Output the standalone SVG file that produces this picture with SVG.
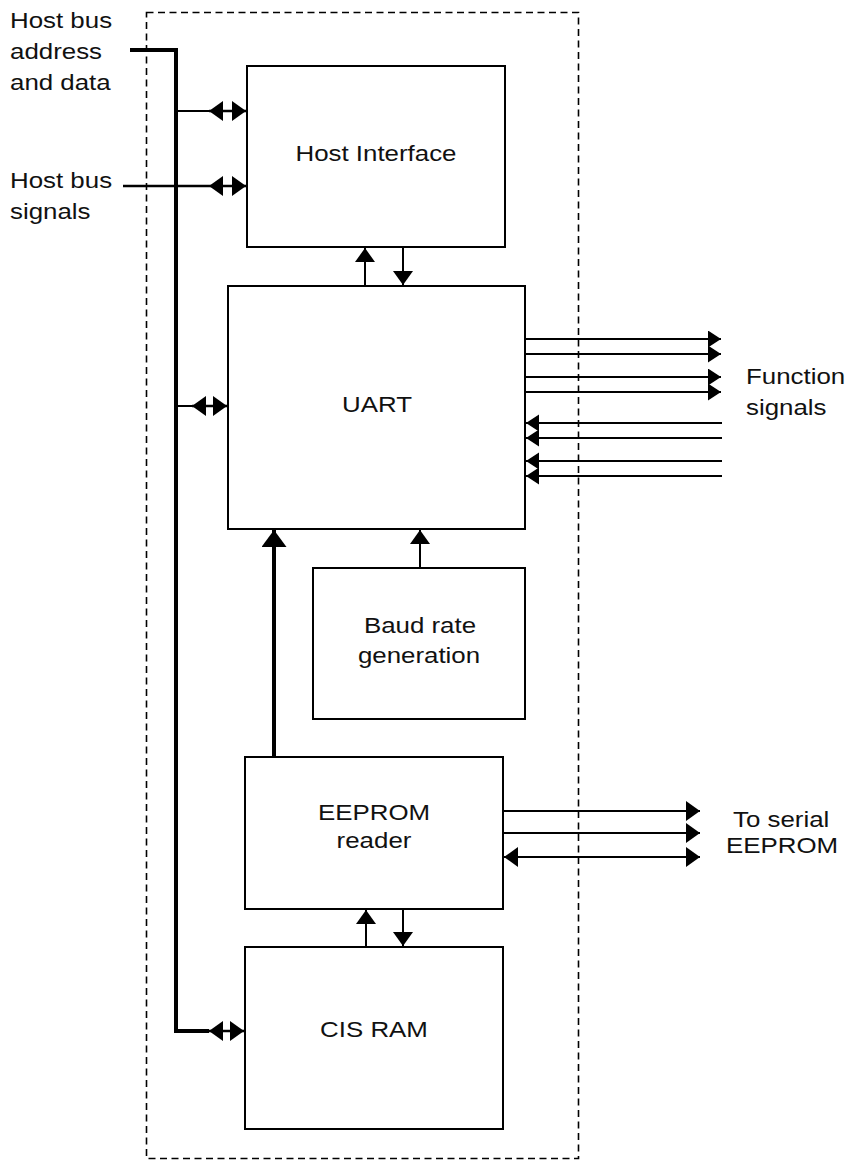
<svg xmlns="http://www.w3.org/2000/svg" width="849" height="1160" viewBox="0 0 849 1160">
<defs>
<marker id="ah" markerUnits="userSpaceOnUse" markerWidth="15" markerHeight="21" refX="14" refY="10" orient="auto-start-reverse" viewBox="0 0 15 21">
<path d="M0,0 L14,10 L0,20 z" fill="#000"/>
</marker>
<marker id="ahs" markerUnits="userSpaceOnUse" markerWidth="14" markerHeight="18" refX="13" refY="8.5" orient="auto-start-reverse" viewBox="0 0 14 18">
<path d="M0,0 L13,8.5 L0,17 z" fill="#000"/>
</marker>
<marker id="ahb" markerUnits="userSpaceOnUse" markerWidth="18" markerHeight="26" refX="17" refY="12.5" orient="auto" viewBox="0 0 18 26">
<path d="M0,0 L17,12.5 L0,25 z" fill="#000"/>
</marker>
</defs>
<style>
.box{fill:#fff;stroke:#000;stroke-width:2}
.t{font-family:"Liberation Sans",Arial,sans-serif;font-size:22.5px;fill:#111}
.m{text-anchor:middle}
.thin{stroke:#000;stroke-width:2;fill:none}
.med{stroke:#000;stroke-width:2.6;fill:none}
.bus{stroke:#000;stroke-width:4;fill:none}
.dash{stroke:#000;stroke-width:1.6;fill:none;stroke-dasharray:7 4.5}
</style>
<rect width="849" height="1160" fill="#fff"/>
<rect id="boundary" class="dash" x="146.5" y="12.5" width="432" height="1146"/>

<g id="labels">
<text class="t" transform="matrix(1.15,0,0,1,10,28)">Host bus</text>
<text class="t" transform="matrix(1.15,0,0,1,10,59)">address</text>
<text class="t" transform="matrix(1.15,0,0,1,10,90)">and data</text>
<text class="t" transform="matrix(1.15,0,0,1,10,188)">Host bus</text>
<text class="t" transform="matrix(1.15,0,0,1,10,219)">signals</text>
<text class="t" transform="matrix(1.15,0,0,1,746,384)">Function</text>
<text class="t" transform="matrix(1.15,0,0,1,746,415)">signals</text>
<text class="t" transform="matrix(1.15,0,0,1,733,827)">To serial</text>
<text class="t" transform="matrix(1.15,0,0,1,726,853)">EEPROM</text>
</g>

<g id="host-interface">
<rect class="box" x="247" y="66" width="258" height="181"/>
<text class="t m" transform="matrix(1.15,0,0,1,376,161)">Host Interface</text>
</g>
<g id="uart">
<rect class="box" x="228" y="286" width="297" height="243"/>
<text class="t m" transform="matrix(1.15,0,0,1,377,412)">UART</text>
</g>
<g id="baud-rate">
<rect class="box" x="313" y="568" width="212" height="151"/>
<text class="t m" transform="matrix(1.15,0,0,1,420,633)">Baud rate</text>
<text class="t m" transform="matrix(1.15,0,0,1,419,663)">generation</text>
</g>
<g id="eeprom-reader">
<rect class="box" x="245" y="757" width="258" height="152"/>
<text class="t m" transform="matrix(1.15,0,0,1,374,820)">EEPROM</text>
<text class="t m" transform="matrix(1.15,0,0,1,374,848)">reader</text>
</g>
<g id="cis-ram">
<rect class="box" x="245" y="947" width="258" height="182"/>
<text class="t m" transform="matrix(1.15,0,0,1,374,1037)">CIS RAM</text>
</g>

<g id="connectors">
<!-- host bus -->
<path class="bus" d="M130,50 H176 V1031 H209"/>
<!-- bus to host interface -->
<path class="thin" d="M176,111 H209"/>
<path class="med" d="M209,111 H246" marker-start="url(#ah)" marker-end="url(#ah)"/>
<!-- host bus signals -->
<path class="med" d="M123,186 H209"/>
<path class="med" d="M209,186 H246" marker-start="url(#ah)" marker-end="url(#ah)"/>
<!-- bus to UART -->
<path class="thin" d="M176,406 H192"/>
<path class="med" d="M192,406 H227" marker-start="url(#ah)" marker-end="url(#ah)"/>
<!-- bus to CIS RAM -->
<path class="med" d="M209,1031 H244" marker-start="url(#ah)" marker-end="url(#ah)"/>
<!-- host interface <-> UART -->
<path class="thin" d="M365,286 V248" marker-end="url(#ah)"/>
<path class="thin" d="M403,247 V285" marker-end="url(#ah)"/>
<!-- function signals out -->
<path class="thin" d="M525,339 H721" marker-end="url(#ahs)"/>
<path class="thin" d="M525,354 H721" marker-end="url(#ahs)"/>
<path class="thin" d="M525,377 H721" marker-end="url(#ahs)"/>
<path class="thin" d="M525,392 H721" marker-end="url(#ahs)"/>
<!-- function signals in -->
<path class="thin" d="M722,423 H526" marker-end="url(#ahs)"/>
<path class="thin" d="M722,438 H526" marker-end="url(#ahs)"/>
<path class="thin" d="M722,461 H526" marker-end="url(#ahs)"/>
<path class="thin" d="M722,476 H526" marker-end="url(#ahs)"/>
<!-- baud to UART -->
<path class="thin" d="M420,568 V530" marker-end="url(#ah)"/>
<!-- EEPROM reader to UART (thick) -->
<path class="bus" d="M274,757 V530" marker-end="url(#ahb)"/>
<!-- EEPROM reader <-> serial EEPROM -->
<path class="thin" d="M503,811 H700" marker-end="url(#ah)"/>
<path class="thin" d="M503,833 H700" marker-end="url(#ah)"/>
<path class="thin" d="M504,857 H700" marker-start="url(#ah)" marker-end="url(#ah)"/>
<!-- EEPROM reader <-> CIS RAM -->
<path class="thin" d="M366,947 V910" marker-end="url(#ah)"/>
<path class="thin" d="M403,909 V946" marker-end="url(#ah)"/>
</g>
</svg>
